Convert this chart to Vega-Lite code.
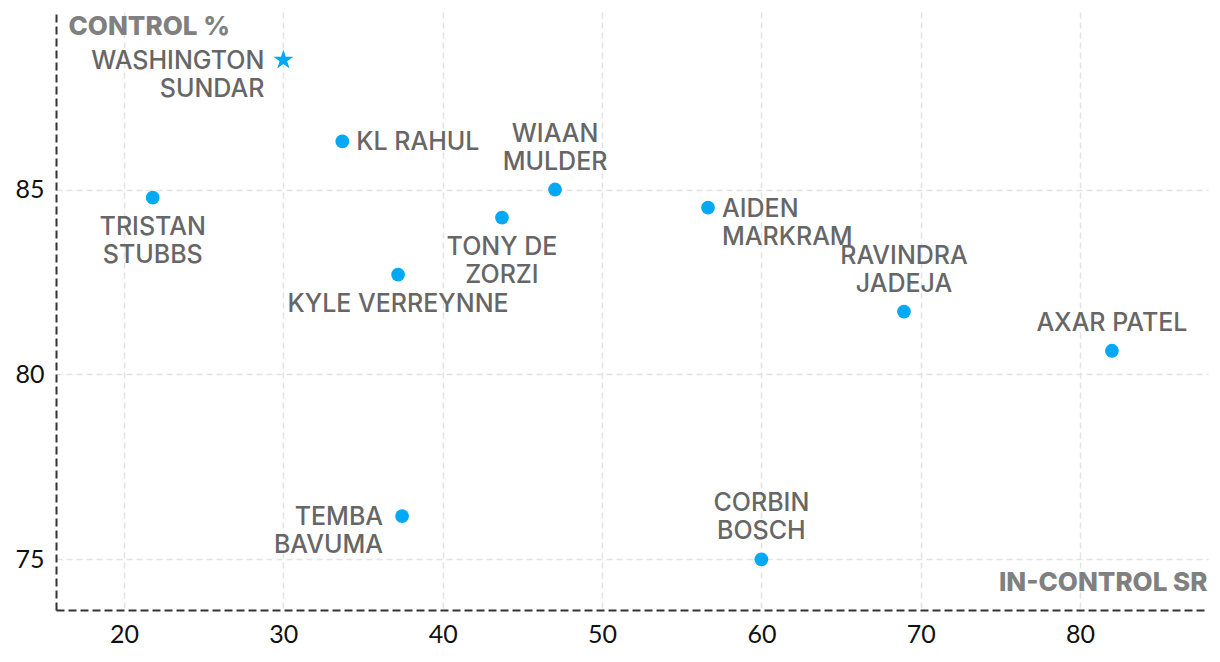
{
  "$schema": "https://vega.github.io/schema/vega-lite/v6.json",
  "width": 1152,
  "height": 598,
  "autosize": {"type": "none"},
  "padding": {"left": 56, "top": 12, "right": 12, "bottom": 52},
  "background": "white",
  "config": {
    "view": {"stroke": null},
    "font": "Inter"
  },
  "data": {
    "values": [
      {"name": "WASHINGTON SUNDAR", "label": "WASHINGTON\nSUNDAR", "sr": 30.0, "control": 88.5},
      {"name": "KL RAHUL", "label": "KL RAHUL", "sr": 33.7, "control": 86.3},
      {"name": "TRISTAN STUBBS", "label": "TRISTAN\nSTUBBS", "sr": 21.8, "control": 84.78},
      {"name": "WIAAN MULDER", "label": "WIAAN\nMULDER", "sr": 47.05, "control": 85.0},
      {"name": "TONY DE ZORZI", "label": "TONY DE\nZORZI", "sr": 43.72, "control": 84.24},
      {"name": "KYLE VERREYNNE", "label": "KYLE VERREYNNE", "sr": 37.2, "control": 82.7},
      {"name": "AIDEN MARKRAM", "label": "AIDEN\nMARKRAM", "sr": 56.65, "control": 84.51},
      {"name": "RAVINDRA JADEJA", "label": "RAVINDRA\nJADEJA", "sr": 68.95, "control": 81.7},
      {"name": "AXAR PATEL", "label": "AXAR PATEL", "sr": 82.0, "control": 80.64},
      {"name": "TEMBA BAVUMA", "label": "TEMBA\nBAVUMA", "sr": 37.45, "control": 76.17},
      {"name": "CORBIN BOSCH", "label": "CORBIN\nBOSCH", "sr": 60.0, "control": 75.0}
    ]
  },
  "encoding": {
    "x": {
      "field": "sr", "type": "quantitative",
      "scale": {"domain": [15.73, 88.03], "nice": false, "zero": false},
      "axis": {
        "values": [20, 30, 40, 50, 60, 70, 80],
        "title": "IN-CONTROL SR",
        "titleX": 1151, "titleY": -28, "titleAlign": "right", "titleBaseline": "middle",
        "titleFont": "Inter", "titleFontSize": 26, "titleFontWeight": 800, "titleColor": "#808080",
        "domainColor": "#333333", "domainWidth": 2, "domainDash": [8, 4],
        "ticks": false,
        "labelFont": "Lato", "labelFontSize": 25, "labelColor": "#111111", "labelPadding": 12,
        "grid": true, "gridColor": "#e3e3e3", "gridDash": [6, 4], "gridWidth": 1.5
      }
    },
    "y": {
      "field": "control", "type": "quantitative",
      "scale": {"domain": [73.63, 89.8], "nice": false, "zero": false},
      "axis": {
        "values": [75, 80, 85],
        "title": "CONTROL %",
        "titleAngle": 0, "titleX": 12, "titleY": 14, "titleAlign": "left", "titleBaseline": "middle",
        "titleFont": "Inter", "titleFontSize": 26, "titleFontWeight": 800, "titleColor": "#808080",
        "domainColor": "#333333", "domainWidth": 2, "domainDash": [8, 4],
        "ticks": false,
        "labelFont": "Lato", "labelFontSize": 25, "labelColor": "#111111", "labelPadding": 12,
        "grid": true, "gridColor": "#e3e3e3", "gridDash": [6, 4], "gridWidth": 1.5
      }
    }
  },
  "layer": [
    {
      "transform": [{"filter": "datum.name != 'WASHINGTON SUNDAR'"}],
      "mark": {"type": "point", "shape": "circle", "filled": true, "size": 190, "color": "#03a9f4", "opacity": 1}
    },
    {
      "transform": [{"filter": "datum.name == 'WASHINGTON SUNDAR'"}],
      "mark": {"type": "point", "shape": "M0,-1L0.2245,-0.309L0.951,-0.309L0.363,0.118L0.588,0.809L0,0.382L-0.588,0.809L-0.363,0.118L-0.951,-0.309L-0.2245,-0.309Z", "filled": true, "size": 440, "color": "#03a9f4", "opacity": 1}
    },
    {
      "transform": [{"filter": {"field": "name", "oneOf": ["KL RAHUL", "AIDEN MARKRAM"]}}],
      "mark": {"type": "text", "align": "left", "baseline": "top", "dx": 14, "dy": -11, "lineBreak": "\n", "lineHeight": 28, "font": "Inter", "fontSize": 25, "fontWeight": 500, "color": "#666666"},
      "encoding": {"text": {"field": "label"}}
    },
    {
      "transform": [{"filter": {"field": "name", "oneOf": ["WIAAN MULDER", "RAVINDRA JADEJA", "CORBIN BOSCH"]}}],
      "mark": {"type": "text", "align": "center", "baseline": "bottom", "dy": -43, "lineBreak": "\n", "lineHeight": 28, "font": "Inter", "fontSize": 25, "fontWeight": 500, "color": "#666666"},
      "encoding": {"text": {"field": "label"}}
    },
    {
      "transform": [{"filter": {"field": "name", "oneOf": ["AXAR PATEL"]}}],
      "mark": {"type": "text", "align": "center", "baseline": "bottom", "dy": -15, "lineBreak": "\n", "lineHeight": 28, "font": "Inter", "fontSize": 25, "fontWeight": 500, "color": "#666666"},
      "encoding": {"text": {"field": "label"}}
    },
    {
      "transform": [{"filter": {"field": "name", "oneOf": ["TRISTAN STUBBS", "TONY DE ZORZI", "KYLE VERREYNNE"]}}],
      "mark": {"type": "text", "align": "center", "baseline": "top", "dy": 17, "lineBreak": "\n", "lineHeight": 28, "font": "Inter", "fontSize": 25, "fontWeight": 500, "color": "#666666"},
      "encoding": {"text": {"field": "label"}}
    },
    {
      "transform": [{"filter": {"field": "name", "oneOf": ["WASHINGTON SUNDAR", "TEMBA BAVUMA"]}}],
      "mark": {"type": "text", "align": "right", "baseline": "top", "dx": -19, "dy": -11, "lineBreak": "\n", "lineHeight": 28, "font": "Inter", "fontSize": 25, "fontWeight": 500, "color": "#666666"},
      "encoding": {"text": {"field": "label"}}
    }
  ]
}
